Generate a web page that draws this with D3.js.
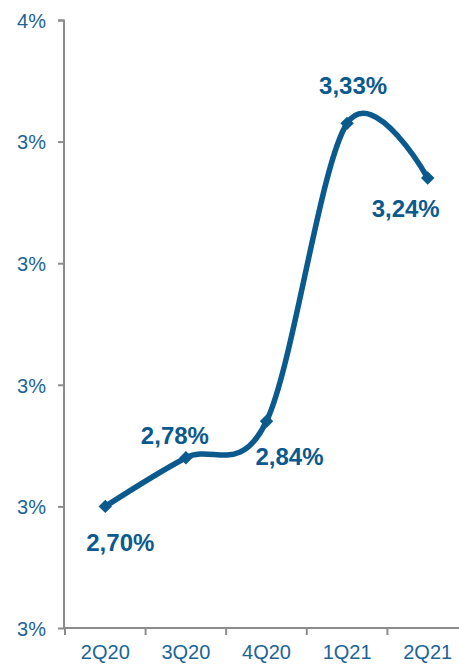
<!DOCTYPE html>
<html><head><meta charset="utf-8">
<script src="https://cdn.jsdelivr.net/npm/d3@7"></script>
<style>body{margin:0;background:#fff}svg{display:block}</style>
</head><body><svg id="c" width="459" height="664"></svg>
<script>
const categories = ["2Q20","3Q20","4Q20","1Q21","2Q21"];
const values = [2.70, 2.78, 2.84, 3.33, 3.24];
const labels = ["2,70%","2,78%","2,84%","3,33%","3,24%"];
const yTicks = [2.5, 2.7, 2.9, 3.1, 3.3, 3.5];
// label offsets (dx, dy) relative to point
const labelPos = [[15,45],[-11,-14],[23,44],[6,-29],[-22,39]];

const blue = "#0b5a8e", textBlue = "#1d6496", grey = "#8c8c8c";
const font = "Liberation Sans, Arial, sans-serif";
const svg = d3.select("#c");
const x = d3.scaleBand().domain(categories).range([65, 468]);
const y = d3.scaleLinear().domain([2.5, 3.5]).range([628, 20]);

const yAxis = d3.axisLeft(y).tickValues(yTicks).tickSize(6).tickPadding(12)
  .tickFormat(d => Math.round(d + 1e-9) + "%");
const gy = svg.append("g").attr("transform","translate(64,0)").call(yAxis);
gy.select(".domain").attr("stroke", grey).attr("stroke-width",2).attr("d","M-6,20.5H0V628");
gy.selectAll(".tick line").attr("stroke", grey).attr("stroke-width",2);
gy.selectAll("text").attr("fill", textBlue).attr("font-family",font).attr("font-size",20).attr("dy","0.36em");

const xAxis = d3.axisBottom(x).tickSize(0).tickPadding(17);
const gx = svg.append("g").attr("transform","translate(0,628)").call(xAxis);
gx.select(".domain").attr("stroke", grey).attr("stroke-width",2).attr("d","M63,0H470");
gx.selectAll(".tick line").remove();
gx.selectAll("text").attr("fill", textBlue).attr("font-family",font).attr("font-size",20).attr("dy","0.71em");
// boundary ticks between categories
const bounds = categories.map(c => x(c)).concat([x(categories[categories.length-1]) + x.bandwidth()]);
svg.append("g").selectAll("line").data(bounds).join("line")
  .attr("x1", d => d).attr("x2", d => d).attr("y1", 628).attr("y2", 635)
  .attr("stroke", grey).attr("stroke-width", 2);

const cx = d => x(d) + x.bandwidth()/2;
const pts = categories.map((c,i) => [cx(c), y(values[i])]);
svg.append("path").datum(pts)
  .attr("d", d3.line().curve(d3.curveCatmullRom.alpha(0)))
  .attr("fill","none").attr("stroke", blue).attr("stroke-width",5.5).attr("stroke-linecap","round");
svg.append("g").selectAll("path").data(pts).join("path")
  .attr("d", d3.symbol(d3.symbolSquare, 90))
  .attr("transform", d => `translate(${d[0]},${d[1]}) rotate(45)`)
  .attr("fill", blue);
svg.append("g").selectAll("text").data(pts).join("text")
  .attr("x", (d,i) => d[0] + labelPos[i][0])
  .attr("y", (d,i) => d[1] + labelPos[i][1])
  .attr("text-anchor","middle")
  .attr("font-family",font)
  .attr("font-weight","bold").attr("font-size",24).attr("fill", blue)
  .text((d,i) => labels[i]);
</script></body></html>
